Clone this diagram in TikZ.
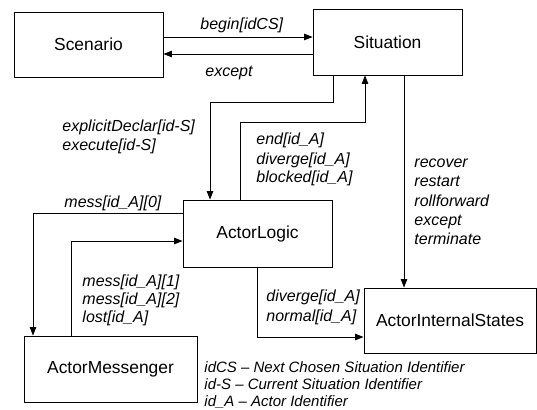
\documentclass[tikz,border=0pt]{standalone}
\usepackage{fontspec}
\setmainfont{Liberation Sans}
\usetikzlibrary{arrows.meta}

\begin{document}
\begin{tikzpicture}[x=1pt, y=-1pt, line width=0.9pt,
        blockbox/.style={draw, inner sep=0pt, minimum height=66pt, font=\fontsize{17.4}{20}\selectfont},
        lbl/.style={anchor=west, inner sep=0pt, text height=11.5pt, text depth=3.2pt, font=\fontsize{16}{19}\selectfont\itshape},
        legend/.style={anchor=west, inner sep=0pt, text height=10.8pt, text depth=3pt, font=\fontsize{15}{17}\selectfont\itshape},
        flow/.style={-{Triangle[length=8.5pt,width=6.5pt]}}]
            \useasboundingbox (0,0) rectangle (537,409);
            % blocks
            \node[blockbox, minimum width=149pt, minimum height=65pt] (scenario) at (88.5,44.5) {Scenario};
            \node[blockbox, minimum width=149pt] (situation) at (387.5,42) {Situation};
            \node[blockbox, minimum width=149pt, minimum height=67pt] (actorlogic) at (257.5,233.5) {ActorLogic};
            \node[blockbox, minimum width=172pt, minimum height=65pt] (internal) at (450,320.5) {ActorInternalStates};
            \node[blockbox, minimum width=173pt] (messenger) at (110.5,369) {ActorMessenger};
            % connectors
            \draw[flow] (scenario.east |- 0,37) -- (situation.west |- 0,37);
            \draw[flow] (situation.west |- 0,54) -- (scenario.east |- 0,54);
            \draw[flow] (situation.south -| 333,0) |- (210,102) -- (actorlogic.north -| 210,0);
            \draw[flow] (actorlogic.north -| 240,0) |- (365,122) -- (situation.south -| 365,0);
            \draw[flow] (situation.south -| 404,0) -- (internal.north -| 404,0);
            \draw[flow] (actorlogic.south) |- (internal.west |- 0,337);
            \draw[flow] (actorlogic.west |- 0,213) -| (messenger.north -| 33,0);
            \draw[flow] (messenger.north -| 71,0) |- (actorlogic.west |- 0,241);
            % labels
            \draw
                (200,25) node[lbl] (lbegin) {begin[idCS]};
            \draw
                (205,72) node[lbl] (lexcept) {except};
            \draw
                (62,127) node[lbl] (ldeclar) {explicitDeclar[id-S]};
            \draw
                (62,146) node[lbl] (lexecute) {execute[id-S]};
            \draw
                (256,140) node[lbl] (lend) {end[id\_A]};
            \draw
                (256,160) node[lbl] (ldivergeup) {diverge[id\_A]};
            \draw
                (256,178) node[lbl] (lblocked) {blocked[id\_A]};
            \draw
                (414,163) node[lbl] (lrecover) {recover};
            \draw
                (414,182) node[lbl] (lrestart) {restart};
            \draw
                (414,202) node[lbl] (lroll) {rollforward};
            \draw
                (414,221) node[lbl] (lexceptstate) {except};
            \draw
                (414,240) node[lbl] (lterminate) {terminate};
            \draw
                (64,203) node[lbl] (lmesszero) {mess[id\_A][0]};
            \draw
                (82,282) node[lbl] (lmessone) {mess[id\_A][1]};
            \draw
                (82,300) node[lbl] (lmesstwo) {mess[id\_A][2]};
            \draw
                (82,318) node[lbl] (llost) {lost[id\_A]};
            \draw
                (266,297) node[lbl] (ldivergedown) {diverge[id\_A]};
            \draw
                (266,317) node[lbl] (lnormal) {normal[id\_A]};
            % legend
            \draw
                (204,369) node[legend] (kidcs) {idCS -- Next Chosen Situation Identifier};
            \draw
                (204,386) node[legend] (kids) {id-S -- Current Situation Identifier};
            \draw
                (204,403) node[legend] (kida) {id\_A -- Actor Identifier};
\end{tikzpicture}
\end{document}
